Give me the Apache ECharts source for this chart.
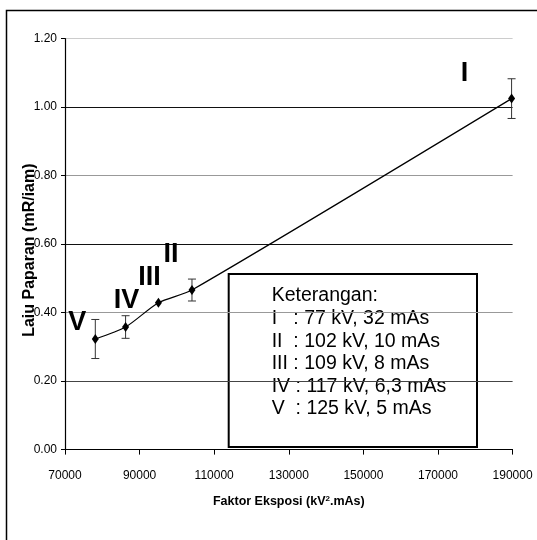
<!DOCTYPE html>
<html>
<head>
<meta charset="utf-8">
<script src="https://cdn.jsdelivr.net/npm/echarts@6/dist/echarts.min.js"></script>
<style>
  html, body { margin: 0; padding: 0; background: #fff; }
  #chart { width: 537px; height: 540px; }
</style>
</head>
<body>
<div id="chart"></div>
<script>
// Exposure settings I..V: exposure factor (kV^2.mAs), dose rate (mR/jam) and its spread
const settingNames = ['I', 'II', 'III', 'IV', 'V'];
const exposureFactor = [189728, 104040, 95048, 86241, 78125];
const doseRate = [1.025, 0.466, 0.429, 0.358, 0.323];
const doseRateError = [0.058, 0.032, 0, 0.033, 0.057];

// Axis ranges
const xMin = 70000, xMax = 190000, xStep = 20000;
const yMin = 0, yMax = 1.2, yStep = 0.2;

// Annotation box text
const legendTitle = 'Keterangan:';
const legendLines = [
  'I   : 77 kV, 32 mAs',
  'II  : 102 kV, 10 mAs',
  'III : 109 kV, 8 mAs',
  'IV : 117 kV, 6,3 mAs',
  'V  : 125 kV, 5 mAs'
];

// Where each roman numeral sits relative to its point (px)
const numeralOffsets = { I: [-47, -25], II: [-21, -35], III: [-9, -25], IV: [1, -26], V: [-18, -16] };

const narrow = "'Liberation Sans Narrow', 'Arial Narrow', 'Liberation Sans', sans-serif";
const arial = "'Liberation Sans', Arial, sans-serif";

const points = settingNames.map((n, i) => ({ name: n, x: exposureFactor[i], y: doseRate[i], e: doseRateError[i] }))
  .sort((a, b) => a.x - b.x);

const chart = echarts.init(document.getElementById('chart'), null, { renderer: 'canvas' });

const gridRect = { left: 65, top: 38.7, right: 24.4, bottom: 90.4 };

chart.setOption({
  animation: false,
  backgroundColor: '#fff',
  grid: { left: gridRect.left, top: gridRect.top, right: gridRect.right, bottom: gridRect.bottom, containLabel: false },
  xAxis: {
    type: 'value', min: xMin, max: xMax, interval: xStep,
    name: 'Faktor Eksposi (kV{sup|2}.mAs)',
    nameLocation: 'middle', nameGap: 45, nameMoveOverlap: false,
    nameTextStyle: {
      fontFamily: narrow, fontWeight: 'bold', fontSize: 12.5, color: '#000',
      rich: { sup: { fontFamily: narrow, fontWeight: 'bold', fontSize: 8, verticalAlign: 'top', padding: [0, 0, 6, 0] } }
    },
    axisLine: { show: true, lineStyle: { color: '#000', width: 1 } },
    axisTick: { show: true, length: 5, lineStyle: { color: '#000' } },
    axisLabel: { margin: 20, fontFamily: narrow, fontSize: 12, color: '#000', formatter: v => String(v) },
    splitLine: { show: false }
  },
  yAxis: {
    type: 'value', min: yMin, max: yMax, interval: yStep,
    name: 'Laiu Paparan (mR/iam)',
    nameLocation: 'middle', nameGap: 27, nameRotate: 90, nameMoveOverlap: false,
    nameTextStyle: { fontFamily: arial, fontWeight: 'bold', fontSize: 16, color: '#000', padding: [0, 12, 0, 0] },
    axisLine: { show: true, lineStyle: { color: '#000', width: 1.2 } },
    axisTick: { show: true, length: 4, lineStyle: { color: '#000' } },
    axisLabel: { margin: 8, fontFamily: narrow, fontSize: 12, color: '#000', formatter: v => v.toFixed(2) },
    splitLine: { show: true, lineStyle: { width: 1, color: ['#000', '#444', '#999', '#111', '#999', '#111', '#ccc'] } }
  },
  series: [
    {
      type: 'line',
      data: points.map(p => [p.x, p.y]),
      smooth: 0.25,
      showSymbol: false,
      lineStyle: { color: '#000', width: 1.2 },
      z: 3
    },
    {
      type: 'custom',
      data: points.filter(p => p.e > 0).map(p => [p.x, p.y, p.e]),
      renderItem: (params, api) => {
        const x = api.value(0), y = api.value(1), e = api.value(2);
        const top = api.coord([x, y + e]);
        const bot = api.coord([x, y - e]);
        const cap = 4;
        const style = { stroke: '#333', lineWidth: 1 };
        return {
          type: 'group',
          children: [
            { type: 'line', shape: { x1: top[0], y1: top[1], x2: bot[0], y2: bot[1] }, style },
            { type: 'line', shape: { x1: top[0] - cap, y1: top[1], x2: top[0] + cap, y2: top[1] }, style },
            { type: 'line', shape: { x1: bot[0] - cap, y1: bot[1], x2: bot[0] + cap, y2: bot[1] }, style }
          ]
        };
      },
      z: 4
    },
    {
      type: 'scatter',
      data: points.map(p => ({
        name: p.name,
        value: [p.x, p.y],
        label: { offset: numeralOffsets[p.name] }
      })),
      symbol: 'diamond',
      symbolSize: [7, 10],
      itemStyle: { color: '#000', opacity: 1 },
      label: {
        show: true, position: 'inside', formatter: '{b}',
        fontFamily: arial, fontWeight: 'bold', fontSize: 27, color: '#000', opacity: 1
      },
      z: 5
    }
  ],
  graphic: [
    // outer frame (left and top edges)
    { type: 'polyline', shape: { points: [[6.5, 540], [6.5, 10.5], [537, 10.5]] }, style: { stroke: '#000', lineWidth: 1.5, fill: null }, z: 10 },
    {
      type: 'group', left: 227.7, top: 273, z: 20,
      children: [
        { type: 'rect', shape: { x: 0, y: 0, width: 248.3, height: 173 }, style: { fill: '#fff', stroke: '#000', lineWidth: 2 } },
        { type: 'text', x: 43, y: 22, style: { text: legendTitle, font: '19.5px ' + arial, fill: '#000', textVerticalAlign: 'middle' } }
      ].concat(legendLines.map((t, i) => ({
        type: 'text', x: 43, y: 22 + 22.6 * (i + 1),
        style: { text: t, font: '19.5px ' + arial, fill: '#000', textVerticalAlign: 'middle' }
      })))
    }
  ]
});
</script>
</body>
</html>
